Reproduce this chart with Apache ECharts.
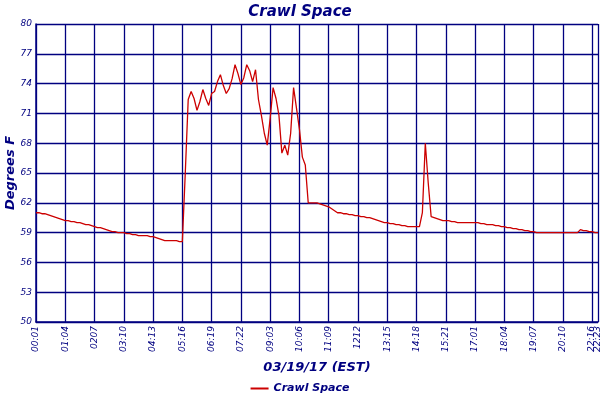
<!DOCTYPE html><html><head><meta charset="utf-8">
<script src="https://cdn.jsdelivr.net/npm/echarts@6/dist/echarts.min.js"></script>
<style>html,body{margin:0;padding:0;background:#fff}#c{width:600px;height:400px}</style></head><body><div id="c"></div>
<script>
const tickIdx=[0,10,20,30,40,50,60,70,80,90,100,110,120,130,140,150,160,170,180,190,192];
const tickLabels=['00:01','01:04','0207','03:10','04:13','05:16','06:19','07:22','09:03','10:06','11:09','1212','13:15','14:18','15:21','17:01','18:04','19:07','20:10','21:13','22:16','22:23'];
const temps=[
61,61,60.9,60.9,60.8,60.7,60.6,60.5,60.4,60.3,
60.2,60.2,60.1,60.1,60,60,59.9,59.8,59.8,59.7,
59.6,59.5,59.5,59.4,59.3,59.2,59.1,59.1,59,59,
59,58.9,58.9,58.8,58.8,58.7,58.7,58.7,58.7,58.6,
58.6,58.5,58.4,58.3,58.2,58.2,58.2,58.2,58.2,58.1,
58.1,65,72.4,73.2,72.5,71.3,72.2,73.4,72.5,71.8,
73,73.2,74.2,74.9,73.8,73,73.5,74.5,75.9,75,
73.9,74.6,75.9,75.3,74.2,75.4,72.4,70.8,69,67.8,
70.5,73.6,72.5,70.8,67,67.8,66.8,69,73.6,71.5,
69.4,66.6,65.8,62,62,62,62,61.9,61.8,61.7,
61.6,61.4,61.2,61,61,60.9,60.9,60.8,60.8,60.7,
60.7,60.6,60.6,60.5,60.5,60.4,60.3,60.2,60.1,60,
60,59.9,59.9,59.8,59.8,59.7,59.7,59.6,59.6,59.6,
59.6,59.6,61,68,64,60.6,60.5,60.4,60.3,60.2,
60.2,60.2,60.1,60.1,60,60,60,60,60,60,
60,60,59.9,59.9,59.8,59.8,59.8,59.7,59.7,59.6,
59.6,59.5,59.5,59.4,59.4,59.3,59.3,59.2,59.2,59.1,
59.1,59,59,59,59,59,59,59,59,59,
59,59,59,59,59,59,59.3,59.2,59.2,59.1,
59.1,59,59];
const labelMap={};
for(let i=0;i<20;i++)labelMap[i*10]=tickLabels[i];
labelMap[190]=tickLabels[20];labelMap[192]=tickLabels[21];
const cats=temps.map((_,i)=>String(i));
const navy='#000080';
const font={fontFamily:'DejaVu Sans',fontStyle:'italic',fontWeight:'bold',color:navy};
const lab={rotate:90,fontSize:9,...font,fontWeight:'normal',margin:4,hideOverlap:false};
const chart=echarts.init(document.getElementById('c'));
chart.setOption({
 animation:false,
 title:{text:'Crawl Space',left:'center',top:0,textStyle:{...font,fontSize:15}},
 legend:{bottom:1,left:'center',itemWidth:18,itemHeight:2,icon:'rect',textStyle:{...font,fontSize:11},data:['Crawl Space']},
 grid:{left:36,right:2,top:24,bottom:78,outerBoundsMode:'none',containLabel:false},
 xAxis:[{type:'category',data:cats,boundaryGap:false,
  name:'03/19/17 (EST)',nameLocation:'middle',nameGap:39,nameTextStyle:{...font,fontSize:13},
  axisLine:{lineStyle:{color:navy,width:1.5}},axisTick:{show:false},
  axisLabel:{...lab,interval:(i)=>labelMap[i]!==undefined,formatter:(v,i)=>labelMap[i]||'',showMaxLabel:true},
  splitLine:{show:true,interval:(i)=>labelMap[i]!==undefined,lineStyle:{color:navy,width:1.3}}},
 {type:'category',data:cats,boundaryGap:false,position:'bottom',axisLine:{show:false},axisTick:{show:false},splitLine:{show:false},
  axisLabel:{...lab,interval:(i)=>i===190,formatter:(v,i)=>i===190?labelMap[190]:'',showMaxLabel:false,showMinLabel:false}}],
 yAxis:{type:'value',min:50,max:80,interval:3,name:'Degrees F',nameLocation:'middle',nameGap:19,nameMoveOverlap:false,nameTextStyle:{...font,fontSize:13},
  axisLine:{show:true,lineStyle:{color:navy,width:1.5}},axisTick:{show:false},
  axisLabel:{fontSize:9,...font,fontWeight:'normal',margin:4},
  splitLine:{lineStyle:{color:navy,width:1.3}}},
 series:[{name:'Crawl Space',type:'line',data:temps,symbol:'none',lineStyle:{color:'#cc0000',width:1.3},itemStyle:{color:'#cc0000'}}]
});
</script></body></html>
